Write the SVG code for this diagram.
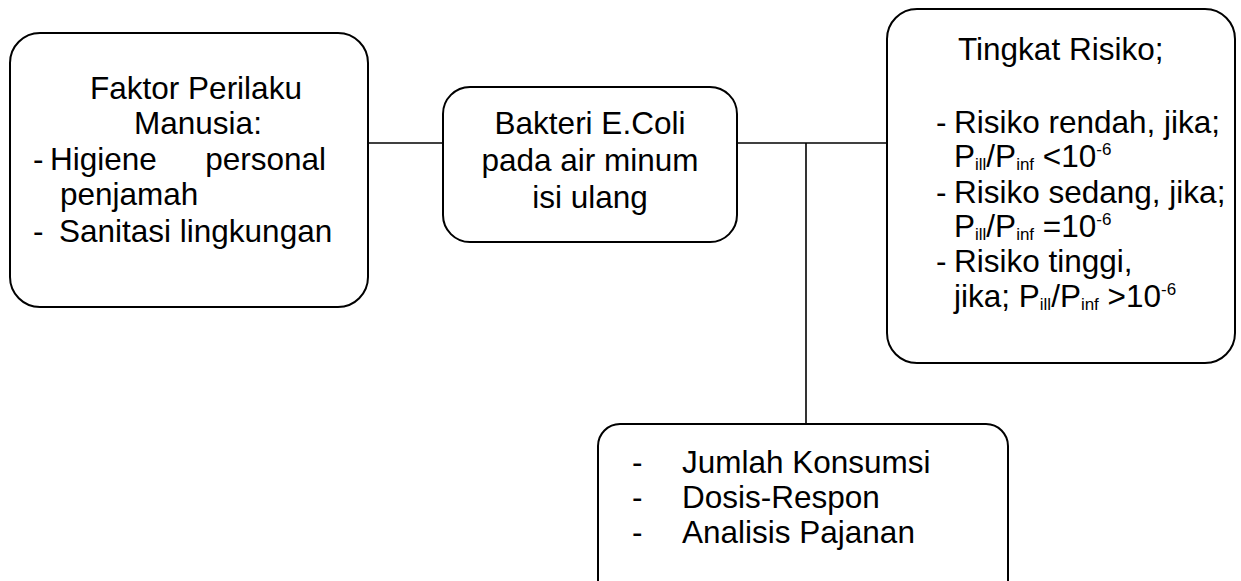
<svg xmlns="http://www.w3.org/2000/svg" width="1241" height="581" viewBox="0 0 1241 581">
<style>
.box{fill:#fff;stroke:#000;stroke-width:2}
.ln{stroke:#000;stroke-width:1.6;fill:none}
text{font-family:"Liberation Sans",Arial,sans-serif;font-size:31.5px;fill:#000}
.s{font-size:17px}
</style>
<rect width="1241" height="581" fill="#fff"/>
<g id="connectors">
<line class="ln" x1="368" y1="143" x2="443" y2="143"/>
<line class="ln" x1="737" y1="143" x2="887" y2="143"/>
<line class="ln" x1="806" y1="143" x2="806" y2="425"/>
</g>
<g id="faktor">
<rect class="box" x="10" y="33" width="358" height="274" rx="30"/>
<text x="196" y="99" text-anchor="middle">Faktor Perilaku</text>
<text x="198" y="134" text-anchor="middle">Manusia:</text>
<text x="33" y="170">-</text>
<text x="50" y="170">Higiene</text>
<text x="326" y="170" text-anchor="end">personal</text>
<text x="60" y="205">penjamah</text>
<text x="33" y="242">-</text>
<text x="59" y="242">Sanitasi lingkungan</text>
</g>
<g id="bakteri">
<rect class="box" x="443" y="87" width="294" height="155" rx="27"/>
<text x="590" y="134" text-anchor="middle">Bakteri E.Coli</text>
<text x="590" y="171" text-anchor="middle">pada air minum</text>
<text x="590" y="208" text-anchor="middle">isi ulang</text>
</g>
<g id="tingkat">
<rect class="box" x="887" y="9" width="348" height="354" rx="30"/>
<text x="958" y="60">Tingkat Risiko;</text>
<text x="936" y="133">-</text>
<text x="954" y="133">Risiko rendah, jika;</text>
<text x="954" y="167">P<tspan class="s" dy="3">ill</tspan><tspan dy="-3">/P</tspan><tspan class="s" dy="3">inf</tspan><tspan dy="-3"> &lt;10</tspan><tspan class="s" dy="-12">-6</tspan></text>
<text x="936" y="203">-</text>
<text x="954" y="203">Risiko sedang, jika;</text>
<text x="954" y="237">P<tspan class="s" dy="3">ill</tspan><tspan dy="-3">/P</tspan><tspan class="s" dy="3">inf</tspan><tspan dy="-3"> =10</tspan><tspan class="s" dy="-12">-6</tspan></text>
<text x="936" y="272">-</text>
<text x="954" y="272">Risiko tinggi,</text>
<text x="954" y="307">jika; P<tspan class="s" dy="3">ill</tspan><tspan dy="-3">/P</tspan><tspan class="s" dy="3">inf</tspan><tspan dy="-3"> &gt;10</tspan><tspan class="s" dy="-12">-6</tspan></text>
</g>
<g id="analisis">
<rect class="box" x="598" y="424" width="410" height="190" rx="22"/>
<text x="632" y="473">-</text>
<text x="682" y="473">Jumlah Konsumsi</text>
<text x="632" y="508">-</text>
<text x="682" y="508">Dosis-Respon</text>
<text x="632" y="543">-</text>
<text x="682" y="543">Analisis Pajanan</text>
</g>
</svg>
